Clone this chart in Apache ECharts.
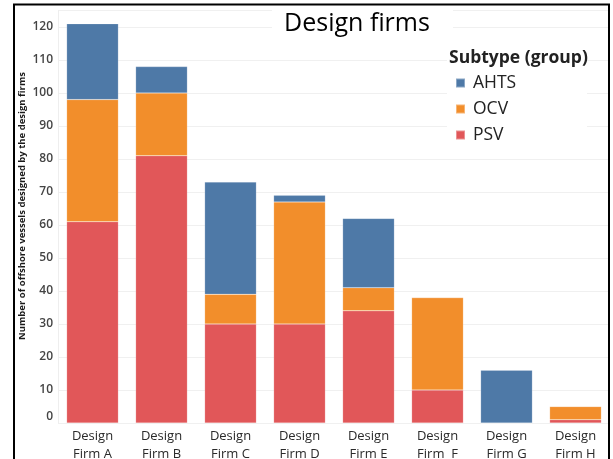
<!DOCTYPE html>
<html>
<head>
<meta charset="utf-8">
<script src="https://cdn.jsdelivr.net/npm/echarts@6/dist/echarts.min.js"></script>
<style>
  html, body { margin: 0; padding: 0; background: #fff; }
  #chart { width: 613px; height: 459px; }
</style>
</head>
<body>
<div id="chart"></div>
<script>
// Offshore vessels per design firm, split by vessel subtype
const firms = ['Design\nFirm A', 'Design\nFirm B', 'Design\nFirm C', 'Design\nFirm D',
               'Design\nFirm E', 'Design\nFirm  F', 'Design\nFirm G', 'Design\nFirm H'];
const psv  = [61, 81, 30, 30, 34, 10, 0, 1];
const ocv  = [37, 19, 9, 37, 7, 28, 0, 4];
const ahts = [23, 8, 34, 2, 21, 0, 16, 0];
const yTicks = [0, 10, 20, 30, 40, 50, 60, 70, 80, 90, 100, 110, 120];
const yTitle = 'Number of offshore vessels designed by the design firms';

const colors = { AHTS: '#4e79a7', OCV: '#f28e2b', PSV: '#e15759' };
const font = '"Open Sans", "Noto Sans", sans-serif';

function stackSeries(name, data) {
  return {
    name: name,
    type: 'bar',
    stack: 'total',
    data: data,
    barCategoryGap: '25%',
    itemStyle: { color: colors[name], borderColor: 'rgba(255,255,255,0.35)', borderWidth: 0.5 },
    emphasis: { disabled: true }
  };
}

const chart = echarts.init(document.getElementById('chart'));
chart.setOption({
  animation: false,
  backgroundColor: '#fff',
  title: {
    text: 'Design firms',
    left: 352, top: 6,
    textAlign: 'center',
    textStyle: { fontFamily: font, fontSize: 25, fontWeight: 'normal', color: '#000' }
  },
  legend: {
    data: ['AHTS', 'OCV', 'PSV'],
    orient: 'vertical',
    left: 450, top: 66,
    icon: 'rect',
    itemWidth: 9, itemHeight: 9,
    itemGap: 2,
    textStyle: { fontFamily: font, fontSize: 17.5, color: '#222', padding: [0, 0, 0, 3], lineHeight: 24 }
  },
  grid: { left: 58, right: 3, top: 10.5, bottom: 36, outerBoundsMode: 'none', containLabel: false },
  xAxis: {
    type: 'category',
    data: firms,
    axisLine: { show: false },
    axisTick: { show: false },
    axisLabel: { fontFamily: font, fontSize: 13, color: '#2a2a2a', lineHeight: 18, margin: 4 }
  },
  yAxis: {
    type: 'value',
    min: yTicks[0], max: 125, interval: 10,
    axisLine: { show: true, lineStyle: { color: '#eeeeee' } },
    axisTick: { show: false },
    splitLine: { lineStyle: { color: '#f0f0f0', width: 1 } },
    axisLabel: {
      showMaxLabel: false,
      fontFamily: font, fontSize: 12, fontWeight: 600, color: '#444', margin: 5,
      // the zero label sits a little above its gridline
      formatter: v => (v === 0 ? '{zero|0}' : (yTicks.indexOf(v) >= 0 ? String(v) : '')),
      rich: {
        zero: { fontFamily: font, fontSize: 12, fontWeight: 600, color: '#444', padding: [0, 0, 12, 0] }
      }
    }
  },
  series: [stackSeries('PSV', psv), stackSeries('OCV', ocv), stackSeries('AHTS', ahts)],
  graphic: [
    {
      // white panels behind the title and the legend block
      type: 'rect', silent: true, z: 3,
      shape: { x: 272, y: 8, width: 181, height: 32 },
      style: { fill: '#fff' }
    },
    {
      type: 'rect', silent: true, z: 3,
      shape: { x: 447, y: 38, width: 140, height: 107 },
      style: { fill: '#fff' }
    },
    {
      type: 'text', left: 449, top: 49, z: 5,
      style: { text: 'Subtype (group)', fontFamily: font, fontSize: 17.5, fontWeight: 'bold', fill: '#222' }
    },
    {
      // y-axis title, rotated
      type: 'text', x: 22.5, y: 206, rotation: Math.PI / 2, z: 5,
      style: {
        text: yTitle, fontFamily: font, fontSize: 9.5, fontWeight: 'bold',
        fill: '#1a1a1a', align: 'center', verticalAlign: 'middle'
      }
    },
    {
      type: 'rect', silent: true, z: 100,
      shape: { x: 14, y: 4.5, width: 595, height: 470 },
      style: { fill: 'none', stroke: '#000', lineWidth: 2 }
    }
  ]
});
</script>
</body>
</html>
